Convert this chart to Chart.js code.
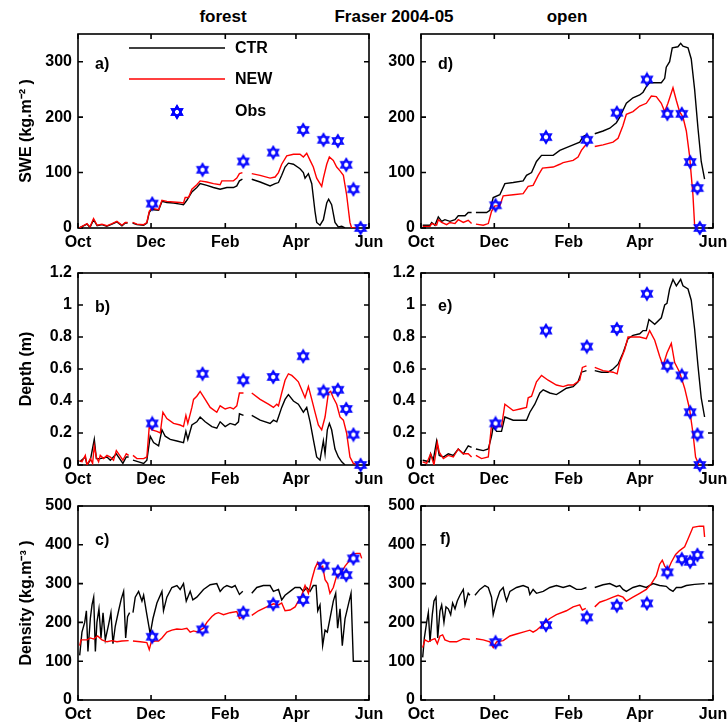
<!DOCTYPE html>
<html>
<head>
<meta charset="utf-8">
<script src="https://cdn.jsdelivr.net/npm/chart.js@4.4.0/dist/chart.umd.min.js"></script>
<style>
    body { margin: 0; background: #fff; }
    #wrap { position: relative; width: 728px; height: 726px; background: #fff; overflow: hidden;
            font-family: "Liberation Sans", Arial, sans-serif; }
    #wrap canvas { position: absolute; }
    .ttl { position: absolute; top: 8px; font-weight: bold; font-size: 17px; line-height: 17px;
           transform: translateX(-50%); white-space: nowrap; color: #000; }
</style>
</head>
<body>
<div id="wrap">
    <div class="ttl" style="left:223px">forest</div>
    <div class="ttl" style="left:394px">Fraser 2004-05</div>
    <div class="ttl" style="left:567px">open</div>
    <canvas id="pa"></canvas>
    <canvas id="pd"></canvas>
    <canvas id="pb"></canvas>
    <canvas id="pe"></canvas>
    <canvas id="pc"></canvas>
    <canvas id="pf"></canvas>
</div>
<script>
/* =========================
   DATA  (x = days since 1 Oct 2004)
========================== */
const monthTicks = [0, 61, 123, 182, 243];
const monthLabels = ['Oct', 'Dec', 'Feb', 'Apr', 'Jun'];
const sweTicks = [0, 100, 200, 300];
const depthTicks = [0, 0.2, 0.4, 0.6, 0.8, 1, 1.2];
const densTicks = [0, 100, 200, 300, 400, 500];

const forestObsDays = [62, 104, 138, 163, 188, 205, 217, 224, 230, 236];
const openObsDays = [62, 104, 138, 163, 188, 205, 217, 224, 230, 232];
const obsSweForest = [44, 105, 120, 136, 177, 159, 157, 114, 70, 0];
const obsSweOpen = [41, 164, 159, 208, 268, 206, 206, 119, 72, 0];
const obsDepthForest = [0.26, 0.57, 0.53, 0.55, 0.68, 0.46, 0.47, 0.35, 0.19, 0];
const obsDepthOpen = [0.26, 0.84, 0.74, 0.85, 1.07, 0.62, 0.56, 0.33, 0.19, 0];
const obsDensForest = [163, 182, 225, 247, 258, 346, 331, 322, 365];
const obsDensOpen = [149, 193, 213, 243, 249, 329, 363, 356, 374];

// [day, value] ; null = no data
const sweForestCtr = [[1,0],[7.5,7],[10,1],[13,15],[16,4],[20,6],[24,3],[28.4,7],[32.5,11],[36.7,4],[39.5,9],[41.4,9],[44,null],
    [45.6,9],[49.2,6],[54.8,5],[57.5,9],[59.5,28],[61.2,33],[63.1,33],[67.3,32],[70.1,48],[74.2,46],[79.8,45],[85.3,43],[88.1,42],
    [90.9,50],[95.1,65],[99.2,73],[102,80],[107.6,77],[113.1,73],[118.7,70],[124.3,73],[129.8,73],[132.6,76],[134.8,85],[137.3,88],[141,null],
    [145.1,88],[152.1,83],[160.4,76],[164.6,80],[167.4,82],[170.1,95],[172.9,110],[175.7,117],[179.9,115],[185.4,107],[188.2,100],
    [189.6,90],[192.4,98],[195.2,80],[197.9,30],[199.3,10],[202.1,5],[204.9,15],[207.7,45],[209.3,52],[211.8,42],[214.6,10],
    [217.4,2],[220.2,3],[223,0]];
const sweForestNew = [[1,0],[7.5,8],[10,2],[13,17],[16,5],[20,7],[24,4],[28.4,8],[32.5,12],[36.7,5],[39.5,10],[41.4,10],[44,null],
    [45.6,10],[49.2,7],[54.8,6],[57.5,10],[59.5,30],[61.2,35],[63.1,35],[67.3,33],[70.1,50],[74.2,48],[79.8,47],[85.3,46],[88.1,45],
    [89.5,55],[92.3,55],[95.1,70],[99.2,78],[102,85],[107.6,83],[113.1,80],[118.7,78],[120.1,85],[124.3,85],[129.8,85],[132.6,90],
    [134.8,98],[137.3,100],[141,null],[145.1,98],[152.1,95],[160.4,90],[164.6,92],[167.4,100],[170.1,115],[174.3,130],[179.9,133],
    [185.4,133],[188.2,128],[191,135],[193.8,122],[196.5,110],[199.3,90],[202.1,80],[203.5,75],[204.9,90],[207.7,115],[209.9,128],
    [213.2,122],[216,110],[218.8,103],[221.6,95],[224.3,60],[227.1,10],[228.5,0],[232.7,0]];

const sweOpenCtr = [[1.4,5],[7.5,5],[8.9,10],[11.6,5],[14.4,20],[17.2,12],[19.9,15],[24.1,12],[28.3,15],[31,22],[36.6,22],[39.3,28],
    [42.1,28],[44,null],[45.7,28],[54.6,28],[57.3,32],[60.1,55],[65.6,60],[69.8,80],[76.7,82],[85,85],[87.8,95],[92,100],[96.1,120],
    [100.3,131],[110,131],[115.5,140],[121,145],[126.6,150],[132.1,155],[134.9,165],[137.7,168],[141,null],[144.6,170],[151.5,175],
    [157.1,180],[162.6,190],[165.4,200],[170.9,225],[176.4,235],[182,240],[184.8,245],[187.5,255],[190.3,262],[195.8,262],[200,262],
    [202.8,270],[204.1,290],[206.9,300],[209.1,325],[213.8,327],[216.1,333],[218,328],[222.2,325],[224.9,305],[227.7,250],
    [230.5,180],[233.2,120],[236,88]];
const sweOpenNew = [[1.4,3],[7.5,3],[8.9,8],[13,5],[14.4,15],[17.2,10],[21.3,6],[24.1,10],[28.3,8],[31,15],[35.2,10],[39.3,14],
    [42.1,8],[44,null],[45.7,7],[51.8,5],[56,8],[58.7,30],[61.5,40],[65.6,40],[68.4,58],[76.7,60],[85,62],[89.2,75],[93.3,77],
    [97.5,95],[101.1,108],[110,110],[115.5,115],[118.3,118],[126.6,122],[130.7,128],[133.5,140],[136.3,148],[137.7,150],[141,null],
    [144.6,147],[151.5,150],[159.8,155],[164,162],[168.1,185],[170.9,205],[176.4,210],[182,220],[187.5,225],[191.7,238],[195.8,237],
    [200,225],[202.8,210],[205.5,225],[209.7,253],[212.5,230],[215.2,210],[218,200],[220.8,175],[223.5,130],[226.3,60],[227.7,5],
    [230.5,0]];

const depthForestCtr = [[1.4,0.02],[6.1,0.05],[7.5,0],[10.3,0.03],[13.6,0.16],[15.3,0.04],[18.6,0.04],[24.2,0.05],[27,0.03],[32,0.07],
    [37.5,0.01],[40.3,0.05],[42.3,0.05],[44,null],[45.9,0.03],[50.6,0.02],[54.8,0.01],[57.5,0.03],[60.3,0.18],[63.1,0.14],[67.3,0.12],
    [70.1,0.22],[72.8,0.18],[77,0.16],[82.6,0.15],[88.1,0.14],[90.1,0.21],[91.7,0.16],[95.1,0.25],[99.2,0.27],[102,0.30],[106.2,0.27],
    [111.8,0.24],[115.9,0.23],[118.7,0.27],[122.9,0.24],[127,0.26],[131.2,0.25],[134,0.27],[134.8,0.32],[138.2,0.31],[141,null],
    [145.1,0.31],[152.1,0.28],[160.4,0.26],[163.2,0.28],[166,0.27],[167.4,0.30],[170.1,0.36],[172.9,0.41],[175.7,0.44],[179.9,0.40],
    [184,0.38],[188.2,0.33],[191,0.36],[193.8,0.27],[196.5,0.16],[199.3,0.05],[202.1,0.03],[204.9,0.15],[206.3,0.07],[208.2,0.22],
    [209.9,0.26],[211.8,0.22],[214.6,0.10],[217.4,0.05],[220.2,0.02],[223,0]];
const depthForestNew = [[1.4,0.03],[3.3,0.02],[6.1,0.06],[7.5,0],[10.3,0.04],[12.2,0.01],[13.6,0.12],[15.3,0.05],[17.2,0.02],[18.6,0.06],
    [21.4,0.04],[24.2,0.06],[27,0.05],[29.7,0.03],[32,0.09],[34.8,0.06],[37.5,0.03],[40.3,0.07],[42.3,0.06],[44,null],[45.9,0.06],
    [49.2,0.04],[54.8,0.04],[57.5,0.05],[59.5,0.24],[61.7,0.22],[65.9,0.21],[68.7,0.20],[70.9,0.33],[74.2,0.29],[79.8,0.26],[85.3,0.25],
    [88.1,0.24],[90.1,0.31],[91.7,0.26],[95.1,0.36],[96.5,0.41],[99.2,0.43],[102,0.46],[106.2,0.41],[110.4,0.36],[115.9,0.33],
    [118.7,0.37],[122.9,0.35],[127,0.36],[129.8,0.35],[132.6,0.37],[134.8,0.45],[138.2,0.45],[141,null],[145.1,0.45],[152.1,0.41],
    [159,0.38],[163.2,0.36],[166,0.38],[167.4,0.37],[170.1,0.45],[172.9,0.53],[175.7,0.57],[178.5,0.56],[181.3,0.54],[184,0.52],
    [186.8,0.47],[189.6,0.42],[192.4,0.49],[195.2,0.41],[197.9,0.33],[200.7,0.25],[203.5,0.22],[206.3,0.30],[209.1,0.45],[211,0.46],
    [213.2,0.42],[216,0.38],[218.8,0.30],[221.6,0.28],[224.3,0.20],[227.1,0.05],[229.9,0.01],[234.1,0]];

const depthOpenCtr = [[1.4,0.03],[6.9,0.02],[8,0.07],[10.2,0.03],[13,0.15],[15.2,0.06],[18.6,0.05],[22.7,0.07],[26.9,0.06],[31,0.10],
    [35.2,0.07],[39.3,0.12],[42.1,0.11],[44,null],[45.7,0.10],[51.8,0.09],[56,0.10],[58.7,0.18],[60.1,0.24],[62.9,0.21],[67,0.21],
    [69.8,0.30],[76.7,0.28],[82.3,0.28],[87.8,0.28],[90.6,0.33],[94.7,0.38],[98.9,0.45],[101.7,0.47],[107.2,0.45],[112.7,0.44],
    [116.9,0.46],[121,0.48],[126.6,0.49],[130.7,0.52],[133.5,0.58],[137.7,0.59],[141,null],[144.6,0.59],[150.1,0.58],[155.7,0.58],
    [159.8,0.60],[164,0.63],[168.1,0.70],[172.3,0.79],[176.4,0.81],[182,0.82],[184.8,0.84],[187.5,0.84],[189.7,0.91],[194.5,0.88],
    [200,0.92],[202.8,1.0],[204.7,1.01],[206.9,1.10],[209.7,1.16],[212.5,1.12],[216.1,1.16],[218,1.12],[222.2,1.10],[224.9,1.03],
    [227.7,0.85],[230.5,0.62],[233.2,0.42],[236,0.30]];
const depthOpenNew = [[1.4,0.02],[4.7,0.01],[8,0.07],[10.8,0],[13.6,0.14],[15.2,0.08],[18.6,0.04],[22.7,0.06],[26.9,0.05],[31,0.10],
    [35.2,0.07],[39.3,0.07],[42.1,0.05],[44,null],[45.7,0.06],[50.4,0.04],[56,0.05],[58.7,0.25],[61.5,0.24],[67,0.24],[69.8,0.38],
    [76.7,0.34],[82.3,0.35],[87.8,0.36],[89.2,0.42],[92,0.43],[96.1,0.52],[100.3,0.56],[105.8,0.53],[112.7,0.50],[118.3,0.49],
    [122.4,0.50],[126.6,0.50],[132.1,0.53],[134.3,0.61],[137.7,0.62],[141,null],[144.6,0.61],[151.5,0.59],[159.8,0.58],[163.2,0.57],
    [165.4,0.64],[169.5,0.72],[172.3,0.80],[176.4,0.80],[182,0.80],[187.5,0.79],[190.3,0.84],[194.5,0.78],[198.6,0.68],[201.4,0.62],
    [204.7,0.70],[208.3,0.76],[211.1,0.64],[215.2,0.58],[219.4,0.48],[223.5,0.35],[226.3,0.20],[228.5,0.05],[231.3,0]];

const densForestCtr = [[1.4,115],[3.3,175],[5.6,200],[7,230],[8.3,125],[10.3,210],[11.7,245],[13.1,265],[14.5,125],[15.8,200],[17.5,235],
    [19.2,160],[20.9,225],[22.8,155],[25.6,195],[27.5,225],[29.2,145],[31.1,190],[33.9,230],[36.1,260],[38.1,280],[39.8,160],[41.4,215],
    [43.1,225],[44.5,null],[45.9,225],[47.8,265],[50.6,280],[53.4,255],[54.8,270],[57.5,220],[60.3,170],[62.6,210],[65.9,250],[70.1,280],
    [71.4,230],[74.2,265],[78.4,290],[82.6,295],[85.3,285],[88.1,300],[90.4,255],[93.7,280],[95.9,258],[99.2,265],[104.8,285],[110.4,297],
    [115.9,300],[118.7,280],[121.5,290],[124.3,295],[128.4,290],[131.2,295],[134.8,272],[137.6,280],[141,null],[145.1,275],[149.3,290],
    [154.8,295],[160.4,295],[163.2,280],[167.4,285],[170.1,258],[172.9,270],[177.1,280],[181.3,290],[185.4,290],[188.2,280],[191,290],
    [193.8,280],[196.5,295],[198.8,295],[200.2,230],[202.1,245],[204.3,140],[206.3,180],[208.2,175],[210.4,210],[213.2,255],[215.2,275],
    [216.8,185],[218.8,235],[220.7,140],[223,210],[225.7,245],[228,275],[229.9,100],[232.7,100],[236.9,100]];
const densForestNew = [[1.4,140],[2.5,155],[7.5,155],[10.3,160],[13.1,157],[16.4,165],[20,155],[24.2,150],[28.4,153],[32.5,150],
    [36.7,152],[42.3,153],[44.5,null],[45.9,152],[52,150],[57.5,148],[59.5,130],[61.2,150],[64.5,152],[67.3,152],[70.1,160],[74.2,175],
    [78.4,180],[82.6,183],[86.7,182],[90.9,185],[93.7,175],[96.5,178],[100.6,175],[102,180],[104.8,185],[107.6,200],[111.8,215],
    [114.5,222],[117.3,225],[121.5,220],[127,225],[132.6,228],[134.8,210],[138.2,215],[141,null],[145.1,218],[150.7,230],[157.6,240],
    [163.2,248],[167.4,245],[170.1,250],[172.9,230],[177.1,232],[181.3,240],[184,255],[186.8,270],[189.6,295],[192.4,275],[195.2,310],
    [197.9,340],[200.2,355],[202.1,340],[204.3,345],[206.3,310],[208.5,300],[210.4,275],[213.2,290],[216,320],[220.2,330],[223,345],
    [225.7,355],[228,375],[232.7,378],[235.5,378],[236.9,365]];

const densOpenCtr = [[1.4,110],[2.8,160],[4.7,200],[6.1,225],[7.5,150],[9.4,220],[10.8,255],[12.5,265],[13.9,160],[15.8,230],[17.2,245],
    [19.1,200],[20.8,240],[22.7,235],[24.7,220],[26.3,250],[28.3,235],[30.2,255],[32.4,270],[35.2,285],[36.6,245],[39.3,275],[40.7,270],
    [43,null],[44.9,270],[49,285],[53.2,295],[56,290],[58.7,265],[60.1,220],[62.9,255],[65.6,280],[68.4,290],[69.8,270],[71.2,255],
    [74,280],[79.5,290],[85,295],[89.2,290],[90.6,272],[93.3,285],[96.1,275],[101.7,280],[107.2,290],[112.7,295],[118.3,290],[123.8,295],
    [129.4,285],[133.5,285],[137.7,290],[141,null],[144.6,290],[151.5,297],[157.1,300],[162.6,292],[165.4,295],[168.1,285],[170.9,280],
    [176.4,290],[182,295],[187.5,290],[193.1,300],[198.6,295],[204.1,293],[206.9,285],[209.7,280],[212.5,290],[216.6,290],[220.8,295],
    [227.7,298],[236,300]];
const densOpenNew = [[1.4,135],[3.3,155],[6.1,150],[8.9,155],[11.6,158],[13.6,145],[15.8,165],[18,168],[19.9,155],[24.1,150],[29.6,150],
    [35.2,158],[40.7,156],[43,null],[45.7,158],[51.8,155],[57.3,150],[60.1,135],[62.9,150],[68.4,153],[74,165],[79.5,170],[85,175],
    [90.6,180],[93.3,175],[96.1,180],[101.7,195],[107.2,210],[112.7,220],[121,230],[126.6,240],[132.1,245],[134.3,232],[137.1,236],
    [141,null],[144.6,240],[148.7,252],[154.3,258],[159.8,265],[164,270],[168.1,265],[170.9,255],[176.4,265],[182,275],[187.5,285],
    [191.7,300],[195.8,320],[198.6,350],[200.8,360],[202.8,345],[205.5,335],[208.3,355],[211.9,375],[215.2,385],[219.4,395],[222.2,415],
    [226.3,445],[231.8,448],[235.2,448],[236,420]];

/* =========================
   HELPERS
========================== */
const FONT = '"Liberation Sans", Arial, sans-serif';
Chart.defaults.font.family = FONT;
Chart.defaults.font.size = 16;
Chart.defaults.font.weight = 'bold';
Chart.defaults.color = '#000';

// hexagram marker (MATLAB 'h' style)
function makeStar(size, r, lw) {
    const c = document.createElement('canvas');
    c.width = c.height = size;
    const g = c.getContext('2d');
    g.strokeStyle = '#0000ff';
    g.lineWidth = lw;
    [-Math.PI / 2, Math.PI / 2].forEach(rot => {
        g.beginPath();
        for (let i = 0; i < 3; i++) {
            const a = rot + i * 2 * Math.PI / 3;
            const px = size / 2 + r * Math.cos(a), py = size / 2 + r * Math.sin(a);
            i ? g.lineTo(px, py) : g.moveTo(px, py);
        }
        g.closePath();
        g.stroke();
    });
    return c;
}
const star = makeStar(16, 6, 1.7);

const toXY = pts => pts.map(([x, y]) => ({ x, y }));
const zipXY = (xs, ys) => ys.map((y, i) => ({ x: xs[i], y }));

// box + inward ticks on all 4 sides
const boxFrame = {
    id: 'boxFrame',
    beforeDatasetsDraw(chart) {
        const { ctx, chartArea: a, scales: { x, y } } = chart;
        ctx.save();
        ctx.strokeStyle = '#000';
        ctx.lineWidth = 1.6;
        ctx.strokeRect(a.left, a.top, a.right - a.left, a.bottom - a.top);
        ctx.beginPath();
        x.ticks.forEach(t => {
            const px = x.getPixelForValue(t.value);
            ctx.moveTo(px, a.bottom); ctx.lineTo(px, a.bottom - 5);
            ctx.moveTo(px, a.top); ctx.lineTo(px, a.top + 5);
        });
        y.ticks.forEach(t => {
            const py = y.getPixelForValue(t.value);
            ctx.moveTo(a.left, py); ctx.lineTo(a.left + 5, py);
            ctx.moveTo(a.right, py); ctx.lineTo(a.right - 5, py);
        });
        ctx.stroke();
        ctx.restore();
    }
};

// "a)", "b)" ...
const panelLabel = {
    id: 'panelLabel',
    afterDraw(chart, args, opts) {
        if (!opts.text) return;
        const { ctx, chartArea: a } = chart;
        ctx.save();
        ctx.font = 'bold 16px ' + FONT;
        ctx.fillStyle = '#000';
        ctx.textBaseline = 'middle';
        ctx.fillText(opts.text, a.left + opts.dx, a.top + opts.dy);
        ctx.restore();
    }
};

// legend inside panel a
const insideLegend = {
    id: 'insideLegend',
    afterDraw(chart, args, opts) {
        if (!opts.show) return;
        const { ctx, chartArea: a } = chart;
        const ds = chart.data.datasets;
        ctx.save();
        ctx.font = 'bold 16px ' + FONT;
        ctx.fillStyle = '#000';
        ctx.textBaseline = 'middle';
        const x0 = a.left + 51, x1 = a.left + 147, tx = a.left + 157;
        [[ds[0], 14], [ds[1], 45]].forEach(([d, dy]) => {
            ctx.strokeStyle = d.borderColor;
            ctx.lineWidth = d.borderWidth;
            ctx.beginPath();
            ctx.moveTo(x0, a.top + dy); ctx.lineTo(x1, a.top + dy);
            ctx.stroke();
            ctx.fillText(d.label, tx, a.top + dy + 1);
        });
        const s = ds[2].pointStyle;
        ctx.drawImage(s, a.left + 99 - s.width / 2, a.top + 78 - s.height / 2);
        ctx.drawImage(s, a.left + 99 - s.width / 2, a.top + 78 - s.height / 2);
        ctx.fillText(ds[2].label, tx, a.top + 78);
        ctx.restore();
    }
};

function makePanel(id, geo, p) {
    const cv = document.getElementById(id);
    cv.width = geo.w; cv.height = geo.h;
    cv.style.left = geo.left + 'px'; cv.style.top = geo.top + 'px';
    const line = (label, pts, color, order) => ({
        label, data: toXY(pts), borderColor: color, borderWidth: 1.4,
        pointRadius: 0, pointHitRadius: 0, tension: 0, fill: false, spanGaps: false, order
    });
    new Chart(cv.getContext('2d'), {
        type: 'line',
        data: {
            datasets: [
                line('CTR', p.ctr, '#000000', 2),
                line('NEW', p.new, '#ff0000', 1),
                { label: 'Obs', data: zipXY(p.obsDays, p.obs), showLine: false, pointStyle: star,
                  pointRadius: 6, borderColor: '#0000ff', clip: false, order: 0 }
            ]
        },
        options: {
            responsive: false,
            animation: false,
            events: [],
            layout: { padding: { left: 0, right: geo.padR, top: geo.padT, bottom: 0 } },
            plugins: {
                legend: { display: false },
                tooltip: { enabled: false },
                panelLabel: p.label,
                insideLegend: { show: !!p.legend }
            },
            scales: {
                x: {
                    type: 'linear', min: 0, max: 243,
                    afterBuildTicks: s => { s.ticks = monthTicks.map(v => ({ value: v })); },
                    afterFit: s => { s.height = geo.xH; s.paddingLeft = 0; s.paddingRight = 0; },
                    grid: { display: false, drawTicks: false },
                    border: { display: false },
                    ticks: { padding: 5, maxRotation: 0, autoSkip: false, callback: (v, i) => monthLabels[i] }
                },
                y: {
                    type: 'linear', min: 0, max: p.ymax,
                    afterBuildTicks: s => { s.ticks = p.ticks.map(v => ({ value: v })); },
                    afterFit: s => { s.width = geo.yW; s.paddingTop = 0; s.paddingBottom = 0; },
                    grid: { display: false, drawTicks: false },
                    border: { display: false },
                    ticks: { padding: 6, autoSkip: false, callback: v => String(v) },
                    title: { display: !!p.ytitle, text: p.ytitle, padding: { top: 17, bottom: 0 } }
                }
            }
        },
        plugins: [boxFrame, panelLabel, insideLegend]
    });
}

/* =========================
   LAYOUT + PANELS
========================== */
const colL = { left: 0, w: 389, yW: 78, padR: 20 };
const colR = { left: 380, w: 348, yW: 41, padR: 15 };
const row1 = { top: 0, h: 258, padT: 34, xH: 30 };
const row2 = { top: 250, h: 245, padT: 23, xH: 30 };
const row3 = { top: 490, h: 236, padT: 16, xH: 26 };
const geo = (c, r) => Object.assign({}, c, r);

makePanel('pa', geo(colL, row1), { ctr: sweForestCtr, new: sweForestNew, obsDays: forestObsDays, obs: obsSweForest,
    ymax: 350, ticks: sweTicks, ytitle: 'SWE (kg.m⁻² )', label: { text: 'a)', dx: 17, dy: 31 }, legend: true });
makePanel('pd', geo(colR, row1), { ctr: sweOpenCtr, new: sweOpenNew, obsDays: openObsDays, obs: obsSweOpen,
    ymax: 350, ticks: sweTicks, label: { text: 'd)', dx: 17, dy: 31 } });
makePanel('pb', geo(colL, row2), { ctr: depthForestCtr, new: depthForestNew, obsDays: forestObsDays, obs: obsDepthForest,
    ymax: 1.2, ticks: depthTicks, ytitle: 'Depth (m)', label: { text: 'b)', dx: 17, dy: 35 } });
makePanel('pe', geo(colR, row2), { ctr: depthOpenCtr, new: depthOpenNew, obsDays: openObsDays, obs: obsDepthOpen,
    ymax: 1.2, ticks: depthTicks, label: { text: 'e)', dx: 17, dy: 34 } });
makePanel('pc', geo(colL, row3), { ctr: densForestCtr, new: densForestNew, obsDays: forestObsDays.slice(0, 9), obs: obsDensForest,
    ymax: 500, ticks: densTicks, ytitle: 'Density (kg.m⁻³ )', label: { text: 'c)', dx: 17, dy: 35 } });
makePanel('pf', geo(colR, row3), { ctr: densOpenCtr, new: densOpenNew, obsDays: openObsDays.slice(0, 9), obs: obsDensOpen,
    ymax: 500, ticks: densTicks, label: { text: 'f)', dx: 19, dy: 34 } });
</script>
</body>
</html>
